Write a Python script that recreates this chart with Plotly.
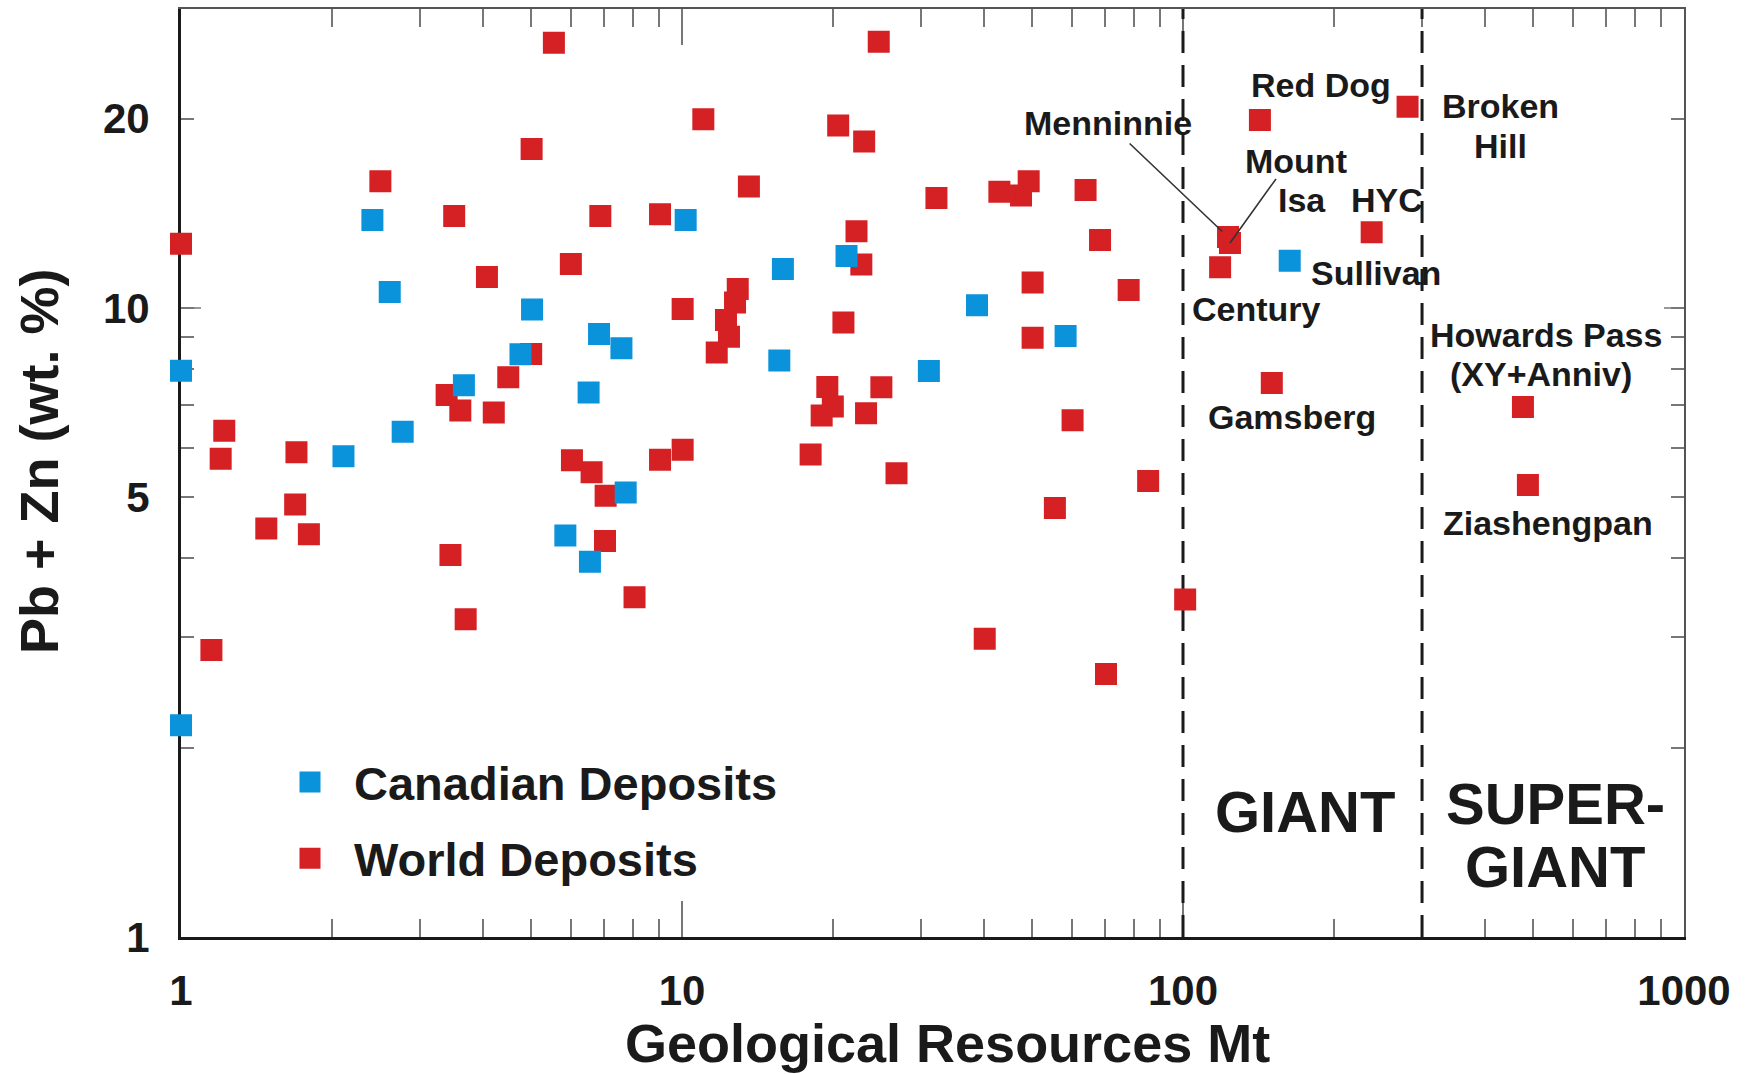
import math
import plotly.graph_objects as go

# ---------------- data (Mt, Pb+Zn wt.%) ----------------
canadian_mt = [1.0, 1.0, 2.41, 2.61, 2.11, 2.77, 3.67, 4.76, 5.02, 6.83, 7.57, 6.51,
               7.72, 5.85, 6.55, 10.17, 15.9, 15.64, 21.3, 31.1, 38.8, 58.3, 163.3]
canadian_grade = [7.95, 2.17, 13.8, 10.6, 5.81, 6.36, 7.54, 8.44, 9.95, 9.09, 8.63, 7.34,
                  5.09, 4.35, 3.95, 13.8, 11.53, 8.25, 12.1, 7.94, 10.1, 9.03, 11.89]

world_mt = [5.55, 5.01, 2.50, 3.51, 6.87, 1.0, 6.0, 4.08, 5.0, 4.50, 3.39, 3.61, 4.21,
            1.22, 1.20, 1.70, 6.03, 6.60, 7.04, 1.48, 1.69, 1.80, 7.02, 3.45, 8.04, 3.70,
            1.15, 24.7, 23.1, 32.2, 43.0, 47.5, 49.2, 63.9, 22.3, 68.3, 50.1, 77.9, 50.1,
            25.0, 23.3, 60.2, 26.8, 85.2, 55.5, 101.0, 40.2, 70.2, 11.03, 20.5, 13.6, 9.04,
            22.8, 12.92, 12.76, 12.24, 12.41, 11.73, 10.03, 21.0, 19.5, 20.0, 19.0, 9.04,
            10.03, 18.06]
world_grade = [26.4, 17.9, 15.9, 14.0, 14.0, 12.65, 11.75, 11.2, 8.45, 7.76, 7.27, 6.87, 6.82,
               6.38, 5.76, 5.90, 5.73, 5.48, 5.03, 4.46, 4.87, 4.37, 4.26, 4.05, 3.47, 3.20,
               2.86, 26.5, 18.4, 14.96, 15.3, 15.1, 15.9, 15.4, 13.25, 12.83, 10.98, 10.68, 8.97,
               7.48, 6.80, 6.63, 5.46, 5.31, 4.81, 3.44, 2.98, 2.62, 19.95, 19.5, 15.6, 14.1,
               11.73, 10.72, 10.2, 9.57, 9.0, 8.50, 9.96, 9.48, 7.49, 6.97, 6.75, 5.74,
               5.95, 5.85]

# named world deposits
named_deposits = ["Red Dog", "Broken Hill", "Menninnie", "Mount Isa", "HYC", "Century",
                  "Gamsberg", "Howards Pass", "Ziashengpan"]
named_mt = [142.4, 280.7, 123.0, 124.1, 238.0, 118.6, 150.4, 477.0, 488.0]
named_grade = [19.9, 20.9, 12.97, 12.69, 13.2, 11.61, 7.60, 6.96, 5.23]

giant_threshold = 100
supergiant_threshold = 300

x_tick_vals = [1, 10, 100, 1000]
x_tick_text = ["1", "10", "100", "1000"]
x_minor_vals = [m * d for d in (1, 10, 100) for m in range(2, 10)]
y_tick_vals = [1, 5, 10, 20]
y_tick_text = ["1", "5", "10", "20"]
y_minor_vals = [2, 3, 4, 6, 7, 8, 9]

x_title = "Geological Resources Mt"
y_title = "Pb + Zn (wt. %)"

# ---------------- style ----------------
W, H = 1756, 1074
ML, MR, MT, MB = 181, 72, 9, 137
PW, PH = W - ML - MR, H - MT - MB
BLUE = "#0a93db"
RED = "#d52124"
INK = "#1a1a1a"
FONT = "Liberation Sans, Arial, Helvetica, sans-serif"
Y_TOP = 29.88


def paper(px, py):
    return (px - ML) / PW, (MT + PH - py) / PH


fig = go.Figure()

for thr in (giant_threshold, supergiant_threshold):
    fig.add_trace(go.Scatter(
        x=[thr, thr], y=[1, 30], mode="lines", showlegend=False, hoverinfo="skip",
        line=dict(color=INK, width=3, dash="22px,12px"),
    ))
fig.add_trace(go.Scatter(
    x=world_mt + named_mt, y=world_grade + named_grade, mode="markers",
    name="World Deposits", legendgroup="w", legendrank=2, cliponaxis=False,
    marker=dict(symbol="square", size=17, color=RED, line=dict(color=RED, width=5)),
))
fig.add_trace(go.Scatter(
    x=canadian_mt, y=canadian_grade, mode="markers",
    name="Canadian Deposits", legendgroup="c", legendrank=1, cliponaxis=False,
    marker=dict(symbol="square", size=17, color=BLUE, line=dict(color=BLUE, width=5)),
))
# dummy trace for mirrored top/right axes
fig.add_trace(go.Scatter(x=[], y=[], xaxis="x2", yaxis="y2", showlegend=False))

tickfont = dict(family=FONT, size=42, color=INK, weight="bold")
common_x = dict(type="log", range=[0, 3], showgrid=False, zeroline=False, automargin=False,
                layer="below traces",
                tickvals=x_tick_vals, ticks="inside", ticklen=36, tickwidth=1.5,
                tickcolor="#777",
                minor=dict(tickvals=x_minor_vals, ticks="inside", ticklen=18,
                           tickwidth=1.5, tickcolor="#777"))
common_y = dict(type="log", range=[0, math.log10(Y_TOP)], showgrid=False, zeroline=False,
                automargin=False, layer="below traces",
                tickvals=y_tick_vals, ticks="inside", ticklen=13, tickwidth=1.5,
                tickcolor="#777",
                minor=dict(tickvals=y_minor_vals, ticks="inside", ticklen=13,
                           tickwidth=1.5, tickcolor="#777"))

fig.update_layout(
    width=W, height=H, margin=dict(l=ML, r=MR, t=MT, b=MB, autoexpand=False),
    paper_bgcolor="white", plot_bgcolor="white",
    font=dict(family=FONT, color=INK),
    xaxis=dict(**common_x, ticktext=x_tick_text, tickfont=tickfont,
               showline=True, linecolor=INK, linewidth=3, ticklabelstandoff=15),
    yaxis=dict(**common_y, ticktext=y_tick_text, tickfont=tickfont,
               showline=True, linecolor=INK, linewidth=3, ticklabelstandoff=20),
    xaxis2=dict(**common_x, overlaying="x", side="top", anchor="y", showticklabels=False,
                showline=True, linecolor="#555", linewidth=2),
    yaxis2=dict(**common_y, overlaying="y", side="right", anchor="x", showticklabels=False,
                showline=True, linecolor="#555", linewidth=2),
    showlegend=True,
    legend=dict(x=paper(266, 0)[0], y=paper(0, 745)[1], xanchor="left", yanchor="top",
                bgcolor="rgba(0,0,0,0)", itemwidth=78, traceorder="grouped",
                tracegroupgap=12, font=dict(family=FONT, size=47, color=INK, weight="bold")),
)

# axis titles
title_font = dict(family=FONT, size=54, color=INK, weight="bold")
xp, yp = paper(947, 1043)
fig.add_annotation(text=x_title, x=xp, y=yp, xref="paper", yref="paper",
                   xanchor="center", yanchor="middle", showarrow=False, font=title_font)
xp, yp = paper(39, 461)
fig.add_annotation(text=y_title, x=xp, y=yp, xref="paper", yref="paper", textangle=-90,
                   xanchor="center", yanchor="middle", showarrow=False, font=title_font)

# long tick marks at 10 on the y axes
fig.add_shape(type="line", xref="paper", yref="y", x0=0, x1=20 / PW, y0=10, y1=10,
              line=dict(color="#777", width=1.5), layer="below")
fig.add_shape(type="line", xref="paper", yref="y", x0=1, x1=1 - 20 / PW, y0=10, y1=10,
              line=dict(color="#777", width=1.5), layer="below")

lab_font = dict(family=FONT, size=34, color=INK, weight="bold")
big_font = dict(family=FONT, size=58, color=INK, weight="bold")

labels = [
    ("Red Dog", 1321, 85, lab_font),
    ("Broken", 1500, 106, lab_font),
    ("Hill", 1500, 146, lab_font),
    ("Mount", 1296, 161, lab_font),
    ("HYC", 1387, 200, lab_font),
    ("Sullivan", 1376, 273, lab_font),
    ("Century", 1256, 309, lab_font),
    ("Gamsberg", 1292, 417, lab_font),
    ("Howards Pass", 1546, 335, lab_font),
    ("(XY+Anniv)", 1541, 374, lab_font),
    ("Ziashengpan", 1548, 523, lab_font),
    ("GIANT", 1305, 811, big_font),
    ("SUPER-", 1555, 803, big_font),
    ("GIANT", 1555, 866, big_font),
]
for text, px, py, f in labels:
    xp, yp = paper(px, py)
    fig.add_annotation(text=text, x=xp, y=yp, xref="paper", yref="paper",
                       xanchor="center", yanchor="middle", showarrow=False, font=f)

# leader lines
i_men = named_deposits.index("Menninnie")
i_isa = named_deposits.index("Mount Isa")
fig.add_annotation(text="Menninnie", x=math.log10(named_mt[i_men]),
                   y=math.log10(named_grade[i_men]), xref="x", yref="y",
                   ax=-120, ay=-114, showarrow=True, arrowhead=0, arrowwidth=1.6,
                   arrowcolor="#333", standoff=8, font=lab_font)
fig.add_annotation(text="Isa", x=math.log10(named_mt[i_isa]),
                   y=math.log10(named_grade[i_isa]), xref="x", yref="y",
                   ax=46, ay=-64, xanchor="left", yanchor="top", showarrow=True,
                   arrowhead=0, arrowwidth=1.6, arrowcolor="#333", font=lab_font)

fig.write_html("out.html", config={"displayModeBar": False},
               post_script="document.body.style.margin='0px';")
